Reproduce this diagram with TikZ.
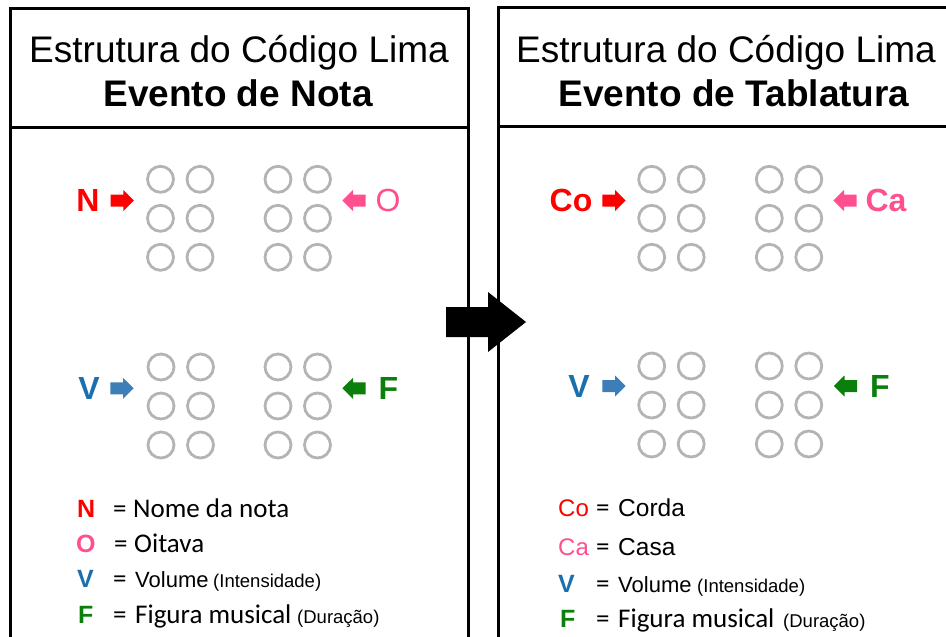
\documentclass[tikz,border=0pt]{standalone}
\usepackage{fontspec}
\setmainfont{Liberation Sans}
\newfontfamily\calfont{Carlito}
\definecolor{cred}{HTML}{FF0000}
\definecolor{cpink}{HTML}{FF4F8F}
\definecolor{cblue}{HTML}{1B6FAE}
\definecolor{cbluearr}{HTML}{3D7DB8}
\definecolor{cgreen}{HTML}{0B7F0B}
\definecolor{ccirc}{HTML}{B4B4B4}
\newcommand\blockarr[4]{%
  \fill[#1,shift={(#2,#3)},xscale=#4] (-11.7,-6) -- (1,-6) -- (1,-10.5) -- (11.7,0) -- (1,10.5) -- (1,6) -- (-11.7,6) -- cycle;}
\newcommand\cellgroup[2]{%
  \foreach \dx in {0,39.5}{\foreach \dy in {0,39,78}{\draw[circ] (#1+\dx,#2+\dy) circle (13);}}}
\begin{document}
\begin{tikzpicture}[x=1pt,y=-1pt,
  frame/.style={line width=3pt,black},
  circ/.style={draw=ccirc,line width=2.8pt},
  ttl/.style={anchor=base,inner sep=0pt,font=\fontsize{37}{44}\selectfont},
  ttlb/.style={ttl,font=\fontsize{37}{44}\selectfont\bfseries},
  lab/.style={anchor=base,inner sep=0pt,font=\fontsize{32}{38}\selectfont\bfseries},
  leg/.style={anchor=base west,inner sep=0pt,font=\fontsize{25}{29}\selectfont\bfseries},
  eq/.style={anchor=base west,inner sep=0pt,font=\calfont\fontsize{27}{32}\selectfont},
  cal/.style={anchor=base west,inner sep=0pt,font=\calfont\fontsize{27}{32}\selectfont},
  ari/.style={anchor=base west,inner sep=0pt,font=\fontsize{22}{26}\selectfont},
  sml/.style={anchor=base west,inner sep=0pt,font=\fontsize{18.5}{22}\selectfont},
]
\useasboundingbox (0,0) rectangle (946,637);
% frames
\draw[frame] (10,660) -- (10,8) -- (468,8) -- (468,660);
\draw[frame] (10,127) -- (468,127);
\draw[frame] (498,660) -- (498,7) -- (960,7);
\draw[frame] (498,126) -- (960,126);
% titles
\node[ttl] (t1) at (239,62) {Estrutura do Código Lima};
\node[ttlb] (t2) at (238,106) {Evento de Nota};
\node[ttl] (t3) at (726,62) {Estrutura do Código Lima};
\node[ttlb] (t4) at (734,106) {Evento de Tablatura};
% big arrow
\fill[black] (446,307) -- (488,307) -- (488,292) -- (526,322) -- (488,352) -- (488,337) -- (446,337) -- cycle;
% left panel circles
\cellgroup{160.5}{179.3}
\cellgroup{278}{179.3}
\cellgroup{161}{367}
\cellgroup{278}{367}
% right panel circles
\cellgroup{651.7}{179.3}
\cellgroup{769.3}{179.3}
\cellgroup{651.7}{366}
\cellgroup{769.3}{366}
% left labels
\node[lab,text=cred] (lN) at (88,211.5) {N};
\blockarr{cred}{122.3}{200.5}{1}
\node[lab,text=cpink,font=\fontsize{32}{38}\selectfont] (lO) at (388,211.5) {O};
\blockarr{cpink}{354}{200.5}{-1}
\node[lab,text=cblue] (lV) at (89,399) {V};
\blockarr{cbluearr}{122}{388.3}{1}
\node[lab,text=cgreen] (lF) at (388.5,399) {F};
\blockarr{cgreen}{354}{388.3}{-1}
% right labels
\node[lab,text=cred] (rCo) at (571,211.7) {Co};
\blockarr{cred}{614}{200.5}{1}
\node[lab,text=cpink] (rCa) at (886,211.7) {Ca};
\blockarr{cpink}{845}{200.5}{-1}
\node[lab,text=cblue] (rV) at (579,397) {V};
\blockarr{cbluearr}{614}{386}{1}
\node[lab,text=cgreen] (rF) at (880,397) {F};
\blockarr{cgreen}{845.5}{386}{-1}
% left legend
\node[leg,text=cred] (kN) at (77,517) {N};
\node[eq] (eN) at (113,517) {=};
\node[cal] (dN) at (133,517) {Nome da nota};
\node[leg,text=cpink] (kO) at (76,552) {O};
\node[eq] (eO) at (114,552) {=};
\node[cal] (dO) at (134,552) {Oitava};
\node[leg,text=cblue] (kV) at (77,587.5) {V};
\node[eq] (eV) at (113,587.5) {=};
\node[ari] (dV) at (135,587.5) {Volume};
\node[sml] (sV) at (213,587.5) {(Intensidade)};
\node[leg,text=cgreen] (kF) at (78,623) {F};
\node[eq] (eF) at (113,623) {=};
\node[cal] (dF) at (135,623) {Figura musical};
\node[sml] (sF) at (297,623) {(Duração)};
% right legend
\node[ari,text=cred,font=\fontsize{24}{28}\selectfont] (kCo) at (558,516) {Co};
\node[eq] (eCo) at (596,516) {=};
\node[ari,font=\fontsize{24.5}{28}\selectfont] (dCo) at (618,516) {Corda};
\node[ari,text=cpink,font=\fontsize{24}{28}\selectfont] (kCa) at (558,555) {Ca};
\node[eq] (eCa) at (596,555) {=};
\node[ari,font=\fontsize{24.5}{28}\selectfont] (dCa) at (618,555) {Casa};
\node[leg,text=cblue] (kV2) at (558,592) {V};
\node[eq] (eV2) at (596,592) {=};
\node[ari] (dV2) at (618,592) {Volume};
\node[sml] (sV2) at (697,592) {(Intensidade)};
\node[leg,text=cgreen] (kF2) at (560,627) {F};
\node[eq] (eF2) at (596,627) {=};
\node[cal] (dF2) at (618,627) {Figura musical};
\node[sml] (sF2) at (783,627) {(Duração)};
\end{tikzpicture}
\end{document}
